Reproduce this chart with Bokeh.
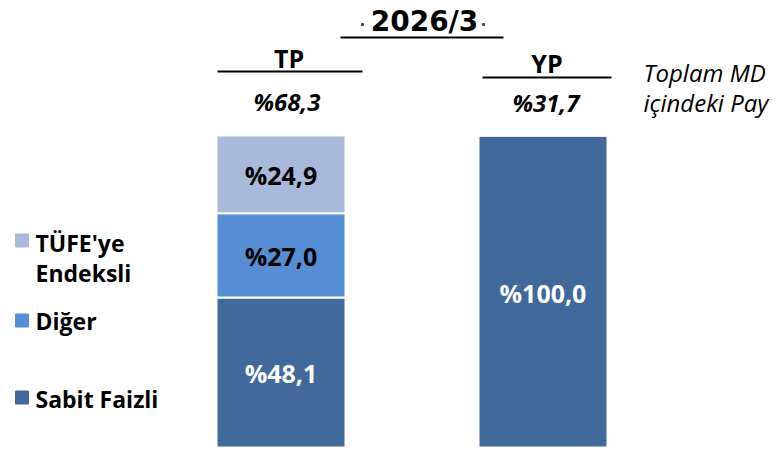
from bokeh.plotting import figure
from bokeh.models import Range1d, ColumnDataSource
from bokeh.core.properties import value
from bokeh.embed import file_html
from bokeh.resources import INLINE
import numpy as np

# ---- data ----
title = "2026/3"
categories = ["TP", "YP"]
shares = ["%68,3", "%31,7"]          # share in total debt
series_names = ["Sabit Faizli", "Diğer", "TÜFE'ye Endeksli"]
series_colors = ["#41699B", "#558ED5", "#A9B9D9"]
label_colors = ["white", "black", "black"]
values = {
    "Sabit Faizli": [48.1, 100.0],
    "Diğer": [27.0, 0.0],
    "TÜFE'ye Endeksli": [24.9, 0.0],
}
note_lines = ["Toplam MD", "içindeki Pay"]
legend_lines = [["Sabit Faizli"], ["Diğer"], ["TÜFE'ye", "Endeksli"]]

# ---- layout (pixel helpers) ----
W, H = 779, 453
PX_PER_X = 262.0      # pixels per category step
PX_PER_Y = 3.12       # pixels per percent
X0 = 1 - 280.5 / PX_PER_X
Y0 = -(H - 447) / PX_PER_Y

def dx(img_x):
    return X0 + img_x / PX_PER_X

def dy(img_y):
    return Y0 + (H - img_y) / PX_PER_Y

p = figure(width=W, height=H, output_backend="svg", toolbar_location=None,
           x_range=Range1d(X0, X0 + W / PX_PER_X),
           y_range=Range1d(Y0, Y0 + H / PX_PER_Y),
           min_border=0, outline_line_color=None)
p.axis.visible = False
p.grid.visible = False
p.background_fill_color = "white"
p.border_fill_color = "white"

xs = np.arange(1, len(categories) + 1, dtype=float)
bar_w = 129 / PX_PER_X

bottom = np.zeros(len(categories))
for name, col, lc in zip(series_names, series_colors, label_colors):
    v = np.array(values[name])
    top = bottom + v
    p.vbar(x=xs, bottom=bottom, top=top, width=bar_w, fill_color=col,
           line_color="white", line_width=2)
    mask = v > 0
    labels = ["%" + f"{val:.1f}".replace(".", ",") for val in v[mask]]
    src = ColumnDataSource(dict(x=xs[mask], y=(bottom + v / 2)[mask], t=labels))
    p.text(x="x", y="y", text="t", source=src, text_align="center",
           text_baseline="middle", text_font=value("Open Sans"),
           text_font_style="bold", text_font_size="25px", text_color=lc,
           y_offset=1)
    bottom = top

# header: title
p.text(x=[dx(424)], y=[dy(21)], text=[title], text_align="center",
       text_baseline="alphabetic", text_font=value("DejaVu Sans"),
       text_font_style="bold", text_font_size="28px", text_color="black")
p.segment(x0=[dx(340)], y0=[dy(37)], x1=[dx(503)], y1=[dy(37)],
          line_color="black", line_width=2)
p.scatter(x=[dx(362), dx(483)], y=[dy(24), dy(24)], size=2,
          color="#444444", marker="square")

# category headers
head_y = [dy(57), dy(62)]
share_y = [dy(101), dy(102)]
line_y = [dy(71), dy(77)]
p.text(x=xs, y=head_y, text=categories, x_offset=[8, 4], text_align="center",
       text_baseline="middle", text_font=value("Open Sans"),
       text_font_style="bold", text_font_size="25px", text_color="black")
p.text(x=xs, y=share_y, text=shares, x_offset=[6, 3], text_align="center",
       text_baseline="middle", text_font=value("Open Sans"),
       text_font_style="bold italic", text_font_size="24px", text_color="black")
p.segment(x0=xs - bar_w / 2 + np.array([1, 4]) / PX_PER_X, y0=line_y,
          x1=xs + bar_w / 2 + np.array([17, 4]) / PX_PER_X, y1=line_y,
          line_color="black", line_width=2)

# note
p.text(x=[dx(643)] * 2, y=[dy(72), dy(102)], text=note_lines,
       text_align="left", text_baseline="middle", text_font=value("Open Sans"),
       text_font_style="italic", text_font_size="24px", text_color="black")

# legend
sq_y = [dy(397), dy(320), dy(240)]
p.scatter(x=[dx(21.5)] * 3, y=sq_y, marker="square", size=13,
          color=series_colors)
text_y = [[dy(398)], [dy(320.5)], [dy(242), dy(272)]]
for lines, ys in zip(legend_lines, text_y):
    p.text(x=[dx(35)] * len(lines), y=ys, text=lines, text_align="left",
           text_baseline="middle", text_font=value("Open Sans"),
           text_font_style="bold", text_font_size="23px", text_color="black")

open("out.html", "w").write(file_html(p, INLINE))
